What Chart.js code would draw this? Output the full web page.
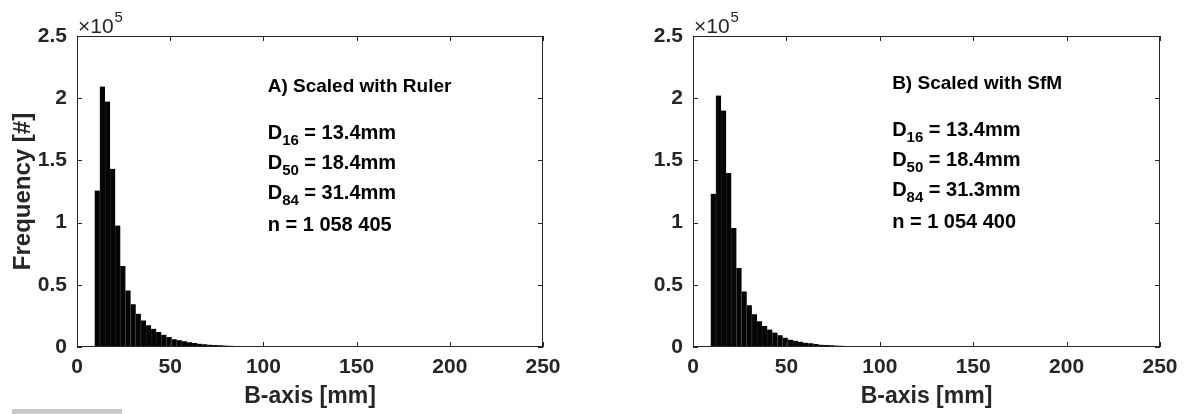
<!DOCTYPE html>
<html>
<head>
<meta charset="utf-8">
<script src="https://cdn.jsdelivr.net/npm/chart.js@4/dist/chart.umd.min.js"></script>
<style>
  body { margin: 0; background: #fff; }
  #wrap { position: relative; width: 1188px; height: 414px; overflow: hidden; }
  canvas { position: absolute; top: 0; }
  #chartA { left: 0; }
  #chartB { left: 594px; }
  #smudge { position: absolute; left: 12px; top: 409px; width: 110px; height: 5px; background: #c8c8c8; }
</style>
</head>
<body>
<div id="wrap">
  <canvas id="chartA" width="594" height="414"></canvas>
  <canvas id="chartB" width="594" height="414"></canvas>
  <div id="smudge"></div>
</div>
<script>
// bin centres, B-axis [mm]
const binCenters = [10.9, 13.65, 16.4, 19.15, 21.9, 24.65, 27.4, 30.15, 32.9, 35.65, 38.4, 41.15,
  43.9, 46.65, 49.4, 52.15, 54.9, 57.65, 60.4, 63.15, 65.9, 68.65, 71.4, 74.15,
  76.9, 79.65, 82.4, 85.15, 87.9, 90.65, 93.4, 96.15, 98.9, 101.65, 104.4, 107.15];

// counts per bin
const countsRuler = [125800, 209400, 197300, 143200, 97700, 65100, 45500, 34300, 26800, 21400, 17400, 14700,
  12000, 9900, 8000, 6200, 5400, 4600, 3800, 3200, 2700, 2200, 1900, 1600,
  1400, 1200, 1050, 900, 800, 700, 600, 520, 450, 380, 300, 250];
const countsSfM = [123200, 202100, 190100, 139800, 95600, 63500, 44700, 33500, 26300, 20600, 16900, 14000,
  11600, 9400, 7500, 5900, 5100, 4300, 3500, 3000, 2400, 1900, 1600, 1400,
  1200, 1050, 900, 800, 700, 600, 520, 450, 380, 300, 250, 200];

const xTicks = [0, 50, 100, 150, 200, 250];
const yTicks = [0, 0.5, 1, 1.5, 2, 2.5];

const notesRuler = ['A) Scaled with Ruler', ['D', '16', ' = 13.4mm'], ['D', '50', ' = 18.4mm'], ['D', '84', ' = 31.4mm'], 'n = 1 058 405'];
const notesSfM = ['B) Scaled with SfM', ['D', '16', ' = 13.4mm'], ['D', '50', ' = 18.4mm'], ['D', '84', ' = 31.3mm'], 'n = 1 054 400'];

const FONT = '"Liberation Sans", Arial, sans-serif';
const AXIS = '#262626';

const matlabBox = {
  id: 'matlabBox',
  afterDraw(chart, args, opts) {
    const { ctx, chartArea: a, scales: { x, y } } = chart;
    ctx.save();
    ctx.strokeStyle = AXIS;
    ctx.lineWidth = 1;
    ctx.strokeRect(a.left + 0.5, a.top + 0.5, a.right - a.left - 1, a.bottom - a.top - 1);
    const tl = 5;
    ctx.beginPath();
    xTicks.forEach(v => {
      const px = Math.round(x.getPixelForValue(v)) + 0.5;
      ctx.moveTo(px, a.bottom); ctx.lineTo(px, a.bottom - tl);
      ctx.moveTo(px, a.top); ctx.lineTo(px, a.top + tl);
    });
    yTicks.forEach(v => {
      const py = Math.round(y.getPixelForValue(v * 1e5)) + 0.5;
      ctx.moveTo(a.left, py); ctx.lineTo(a.left + tl, py);
      ctx.moveTo(a.right, py); ctx.lineTo(a.right - tl, py);
    });
    ctx.stroke();

    // x10^5 exponent
    ctx.fillStyle = AXIS;
    ctx.textBaseline = 'alphabetic';
    ctx.font = '21px ' + FONT;
    ctx.fillText('\u00d710', a.left + 1, a.top - 3);
    const w = ctx.measureText('\u00d710').width;
    ctx.font = '15px ' + FONT;
    ctx.fillText('5', a.left + 2 + w, a.top - 14);

    // annotation block
    const notes = opts.notes;
    const tx = x.getPixelForValue(opts.at);
    let ty = a.top + 51 + opts.dy;
    ctx.fillStyle = '#000';
    ctx.textBaseline = 'middle';
    ctx.font = 'bold 19px ' + FONT;
    ctx.fillText(notes[0], tx, ty);
    ty += 46;
    notes.slice(1).forEach(n => {
      if (Array.isArray(n)) {
        ctx.font = 'bold 20px ' + FONT;
        ctx.fillText(n[0], tx, ty);
        let cx = tx + ctx.measureText(n[0]).width;
        ctx.font = 'bold 15px ' + FONT;
        ctx.fillText(n[1], cx, ty + 8);
        cx += ctx.measureText(n[1]).width;
        ctx.font = 'bold 20px ' + FONT;
        ctx.fillText(n[2], cx, ty);
        ty += 30;
      } else {
        ctx.font = 'bold 20px ' + FONT;
        ctx.fillText(n, tx, ty + 2);
      }
    });
    ctx.restore();
  }
};

function makeChart(id, counts, notes, noteAt, noteDy, yWidth, rightPad, showTitle) {
  return new Chart(document.getElementById(id), {
    type: 'bar',
    data: {
      datasets: [{
        data: binCenters.map((c, i) => ({ x: c, y: counts[i] })),
        backgroundColor: '#050505',
        borderColor: '#2a2a2a',
        borderWidth: { left: 0.6, right: 0, top: 0, bottom: 0 },
        borderSkipped: false,
        barPercentage: 1,
        categoryPercentage: 1
      }]
    },
    options: {
      responsive: false,
      animation: false,
      events: [],
      layout: { padding: { top: 36, right: rightPad, left: 0, bottom: 0 } },
      plugins: { legend: { display: false }, tooltip: { enabled: false }, matlabBox: { notes: notes, at: noteAt, dy: noteDy } },
      scales: {
        x: {
          type: 'linear', min: 0, max: 250, offset: false,
          afterBuildTicks: s => { s.ticks = xTicks.map(v => ({ value: v })); },
          afterFit: s => { s.height = 67; },
          grid: { display: false, drawTicks: false, offset: false },
          border: { display: false },
          ticks: { color: AXIS, padding: 8, maxRotation: 0, font: { family: FONT, size: 21, weight: 'bold' } },
          title: { display: true, text: 'B-axis [mm]', color: AXIS, padding: { top: 0, bottom: 4 }, font: { family: FONT, size: 23, weight: 'bold' } }
        },
        y: {
          min: 0, max: 250000,
          afterBuildTicks: s => { s.ticks = yTicks.map(v => ({ value: v * 1e5 })); },
          afterFit: s => { s.width = yWidth; },
          grid: { display: false, drawTicks: false },
          border: { display: false },
          ticks: { color: AXIS, padding: 10, callback: v => String(v / 1e5), font: { family: FONT, size: 21, weight: 'bold' } },
          title: { display: showTitle, text: 'Frequency [#]', color: AXIS, padding: { top: 9, bottom: 0 }, font: { family: FONT, size: 24, weight: 'bold' } }
        }
      }
    },
    plugins: [matlabBox]
  });
}

makeChart('chartA', countsRuler, notesRuler, 102.3, 0, 77, 51, true);
makeChart('chartB', countsSfM, notesSfM, 106.6, -3, 99, 28, false);
</script>
</body>
</html>
